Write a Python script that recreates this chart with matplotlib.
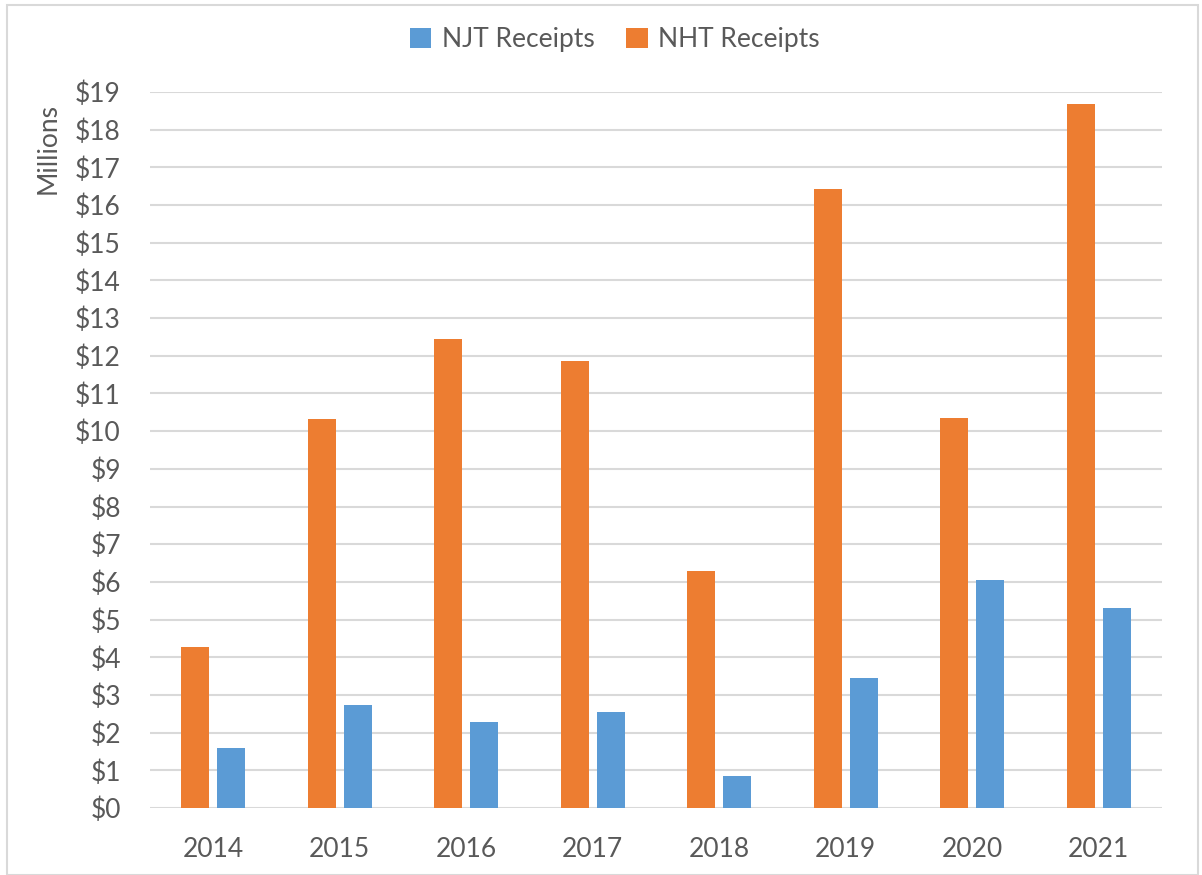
import matplotlib.pyplot as plt
import numpy as np
from matplotlib.patches import Rectangle

plt.rcParams['font.family'] = ['Lato', 'DejaVu Sans']

years = ["2014", "2015", "2016", "2017", "2018", "2019", "2020", "2021"]
njt_receipts = [1.60, 2.72, 2.29, 2.54, 0.86, 3.46, 6.05, 5.32]
nht_receipts = [4.27, 10.31, 12.45, 11.85, 6.29, 16.42, 10.36, 18.69]
yticks = list(range(0, 20))

blue = "#5B9BD5"
orange = "#ED7D31"
text_gray = "#595959"
grid_gray = "#D9D9D9"

fig = plt.figure(figsize=(12.02, 8.75), dpi=100)
ax = fig.add_axes([150 / 1202, 1 - 808 / 875, 1012 / 1202, (808 - 92) / 875])

x = np.arange(len(years))
w = 0.222
off = 0.142
ax.bar(x - off, nht_receipts, width=w, color=orange, label="NHT Receipts", zorder=3)
ax.bar(x + off, njt_receipts, width=w, color=blue, label="NJT Receipts", zorder=3)

ax.set_xlim(-0.5, len(years) - 0.5)
ax.set_ylim(0, 19)
ax.set_yticks(yticks)
ax.set_yticklabels([f"${v}" for v in yticks])
ax.set_xticks(x)
ax.set_xticklabels(years)
ax.tick_params(axis="both", length=0, labelsize=19, colors=text_gray)
ax.tick_params(axis="y", pad=21)
ax.tick_params(axis="x", pad=21)
ax.yaxis.grid(True, color=grid_gray, linewidth=1.5, zorder=0)
for s in ax.spines.values():
    s.set_visible(False)

fig.text(48 / 1202, 1 - 148 / 875, "Millions", rotation=90, ha="center", va="center",
         fontsize=19, color=text_gray)

handles, labels = ax.get_legend_handles_labels()
fig.legend(handles[::-1], labels[::-1], loc="center", bbox_to_anchor=(615 / 1202, 1 - 40 / 875),
           ncol=2, frameon=False, fontsize=19, labelcolor=text_gray,
           handlelength=0.8, handleheight=0.8, handletextpad=0.4, columnspacing=1.2)

fig.patches.append(Rectangle((7 / 1202, 0), 1191 / 1202, 1 - 5 / 875, transform=fig.transFigure,
                             fill=False, edgecolor=grid_gray, linewidth=1.5))

fig.savefig("out.png", dpi=100)
